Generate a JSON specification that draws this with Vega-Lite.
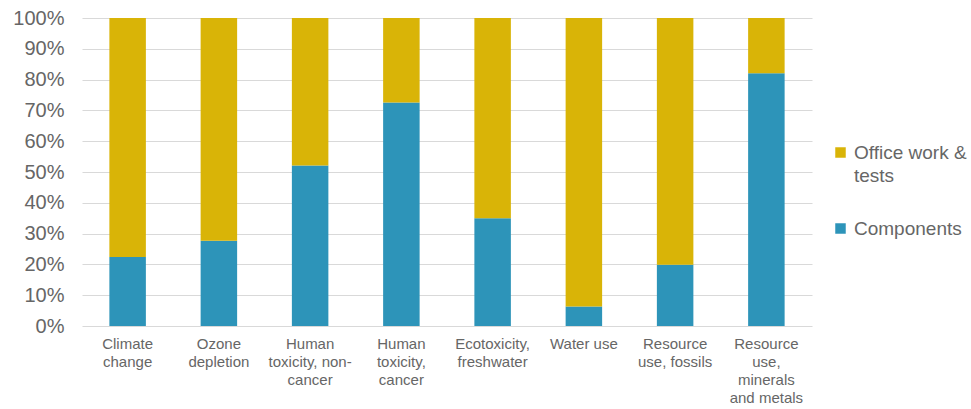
{
  "$schema": "https://vega.github.io/schema/vega-lite/v6.json",
  "width": 730,
  "height": 308,
  "autosize": {"type": "none"},
  "padding": {"left": 82, "top": 18, "right": 159, "bottom": 83},
  "background": "white",
  "config": {
    "view": {"stroke": null},
    "font": "Arial, Liberation Sans, sans-serif"
  },
  "data": {
    "values": [
      {"category": "Climate change", "series": "Components", "share": 22.4},
      {"category": "Climate change", "series": "Office work & tests", "share": 77.6},
      {"category": "Ozone depletion", "series": "Components", "share": 27.7},
      {"category": "Ozone depletion", "series": "Office work & tests", "share": 72.3},
      {"category": "Human toxicity, non-cancer", "series": "Components", "share": 52.1},
      {"category": "Human toxicity, non-cancer", "series": "Office work & tests", "share": 47.9},
      {"category": "Human toxicity, cancer", "series": "Components", "share": 72.6},
      {"category": "Human toxicity, cancer", "series": "Office work & tests", "share": 27.4},
      {"category": "Ecotoxicity, freshwater", "series": "Components", "share": 35.0},
      {"category": "Ecotoxicity, freshwater", "series": "Office work & tests", "share": 65.0},
      {"category": "Water use", "series": "Components", "share": 6.3},
      {"category": "Water use", "series": "Office work & tests", "share": 93.7},
      {"category": "Resource use, fossils", "series": "Components", "share": 19.9},
      {"category": "Resource use, fossils", "series": "Office work & tests", "share": 80.1},
      {"category": "Resource use, minerals and metals", "series": "Components", "share": 82.1},
      {"category": "Resource use, minerals and metals", "series": "Office work & tests", "share": 17.9}
    ]
  },
  "mark": {"type": "bar"},
  "encoding": {
    "x": {
      "field": "category",
      "type": "nominal",
      "sort": null,
      "scale": {"paddingInner": 0.6, "paddingOuter": 0.3},
      "axis": {
        "title": null,
        "labelAngle": 0,
        "domain": false,
        "ticks": false,
        "labelPadding": 10,
        "labelFontSize": 15,
        "labelColor": "#666666",
        "labelLineHeight": 18,
        "labelLimit": 200,
        "labelExpr": "{'Climate change': ['Climate', 'change'], 'Ozone depletion': ['Ozone', 'depletion'], 'Human toxicity, non-cancer': ['Human', 'toxicity, non-', 'cancer'], 'Human toxicity, cancer': ['Human', 'toxicity,', 'cancer'], 'Ecotoxicity, freshwater': ['Ecotoxicity,', 'freshwater'], 'Water use': ['Water use'], 'Resource use, fossils': ['Resource', 'use, fossils'], 'Resource use, minerals and metals': ['Resource', 'use,', 'minerals', 'and metals']}[datum.label]"
      }
    },
    "y": {
      "field": "share",
      "type": "quantitative",
      "stack": "normalize",
      "scale": {"domain": [0, 1]},
      "axis": {
        "title": null,
        "format": ".0%",
        "values": [0, 0.1, 0.2, 0.3, 0.4, 0.5, 0.6, 0.7, 0.8, 0.9, 1],
        "domain": false,
        "ticks": false,
        "labelPadding": 18,
        "labelFontSize": 20,
        "labelColor": "#666666",
        "gridColor": "#d9d9d9",
        "gridWidth": 1.2
      }
    },
    "color": {
      "field": "series",
      "type": "nominal",
      "scale": {
        "domain": ["Office work & tests", "Components"],
        "range": ["#d9b407", "#2d94b9"]
      },
      "legend": {
        "title": null,
        "orient": "none",
        "legendX": 749,
        "legendY": 125,
        "symbolType": "square",
        "symbolSize": 110,
        "symbolStrokeWidth": 0,
        "labelFontSize": 19,
        "labelColor": "#666666",
        "labelOffset": 4,
        "labelLimit": 200,
        "rowPadding": 33,
        "labelExpr": "datum.label == 'Office work & tests' ? ['Office work &', 'tests'] : datum.label",
        "encode": {"labels": {"update": {"lineHeight": {"value": 23}}}}
      }
    },
    "order": {"field": "series", "sort": "ascending"}
  }
}
